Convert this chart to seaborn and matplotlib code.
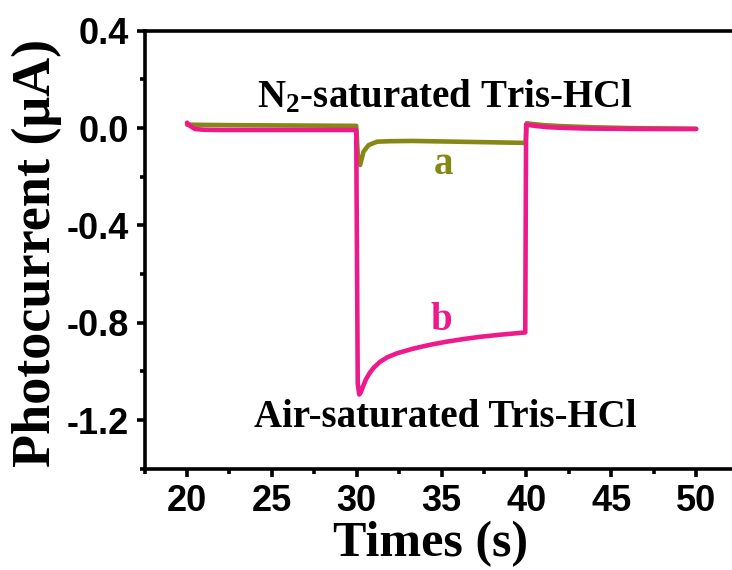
import numpy as np
import pandas as pd
import matplotlib
matplotlib.use("Agg")
import matplotlib.pyplot as plt
import seaborn as sns
from matplotlib.ticker import MultipleLocator, FormatStrFormatter

# ---- data ----
time_a = [20.0, 21.0, 22.5, 25.0, 27.5, 29.97, 30.08, 30.2, 30.4, 30.7, 31.2,
          32.0, 33.3, 35.0, 37.5, 39.95, 40.02, 40.3, 41.0, 42.0, 44.0, 46.0, 50.0]
current_a = [0.014, 0.013, 0.012, 0.011, 0.010, 0.009, -0.13, -0.152, -0.097, -0.070, -0.056,
             -0.054, -0.053, -0.055, -0.058, -0.061, 0.020, 0.017, 0.012, 0.008, 0.003, 0.0, -0.003]

time_b = [20.0, 20.15, 20.47, 21.0, 22.0, 24.0, 26.0, 28.0, 29.97, 30.06, 30.15,
          30.25, 30.38, 30.55, 30.75, 31.0, 31.35, 31.8, 32.4, 33.36, 34.3, 35.3,
          36.3, 37.27, 38.5, 39.93, 39.98, 40.2, 40.6, 41.2, 42.0, 43.5, 45.0, 47.5, 50.0]
current_b = [0.022, 0.010, -0.004, -0.007, -0.008, -0.008, -0.008, -0.008, -0.008, -1.05, -1.095,
             -1.085, -1.06, -1.032, -1.008, -0.985, -0.962, -0.942, -0.925, -0.906, -0.891, -0.878,
             -0.867, -0.858, -0.849, -0.840, 0.014, 0.012, 0.008, 0.004, 0.001, -0.002, -0.003,
             -0.004, -0.004]

series_names = ["a", "b"]
series_colors = ["#878716", "#EE1A8C"]

x_ticks = [20, 25, 30, 35, 40, 45, 50]
y_ticks = [0.4, 0.0, -0.4, -0.8, -1.2]

df = pd.concat([
    pd.DataFrame({"Time": time_a, "Current": current_a, "sample": "a"}),
    pd.DataFrame({"Time": time_b, "Current": current_b, "sample": "b"}),
], ignore_index=True)

sns.set_theme(style="ticks")
plt.rcParams["font.family"] = ["Liberation Sans", "DejaVu Sans"]
plt.rcParams["axes.unicode_minus"] = False
plt.rcParams["text.color"] = "black"
plt.rcParams["axes.labelcolor"] = "black"
plt.rcParams["mathtext.fontset"] = "custom"
plt.rcParams["mathtext.rm"] = "Liberation Serif:bold"
plt.rcParams["mathtext.bf"] = "Liberation Serif:bold"
plt.rcParams["mathtext.it"] = "Liberation Serif:bold"

fig = plt.figure(figsize=(7.32, 5.70), dpi=100)
ax = fig.add_axes([0.1975, 0.1777, 0.8115, 0.7684])

sns.lineplot(data=df, x="Time", y="Current", hue="sample",
             palette=dict(zip(series_names, series_colors)),
             hue_order=series_names, estimator=None, sort=False,
             linewidth=3.3, legend=False, ax=ax)
for ln in ax.get_lines():
    ln.set_solid_joinstyle("round")
    ln.set_solid_capstyle("round")

ax.set_xlim(17.5, 52.5)
ax.set_ylim(-1.4, 0.4)
ax.set_xticks(x_ticks)
ax.set_yticks(y_ticks)
ax.xaxis.set_minor_locator(MultipleLocator(2.5))
ax.yaxis.set_minor_locator(MultipleLocator(0.2))
ax.yaxis.set_major_formatter(FormatStrFormatter("%.1f"))

for s in ax.spines.values():
    s.set_linewidth(2.6)
    s.set_color("black")
ax.tick_params(which="major", direction="out", length=6, width=2.6, color="black",
               labelsize=26, pad=5, labelcolor="black")
ax.tick_params(which="minor", direction="out", length=3.5, width=2.6, color="black")
for lab in ax.get_xticklabels() + ax.get_yticklabels():
    lab.set_fontweight("bold")
    lab.set_fontfamily("Liberation Sans")

serif = ["Liberation Serif", "DejaVu Serif"]
ax.set_xlabel("Times (s)", fontsize=36, fontweight="bold", family=serif, color="black",
              va="baseline", ha="center")
ax.set_ylabel("Photocurrent (μA)", fontsize=39, fontweight="bold", family=serif, color="black",
              va="center", ha="center")
ax.xaxis.set_label_coords(0.482, -0.2)
ax.yaxis.set_label_coords(-0.181, 0.4925)

ax.text(35.2, 0.127, r"N$_\mathregular{2}$-saturated Tris-HCl", fontsize=28,
        fontweight="bold", family=serif, ha="center", va="center", color="black")
ax.text(35.2, -1.188, "Air-saturated Tris-HCl", fontsize=28,
        fontweight="bold", family=serif, ha="center", va="center", color="black")
ax.text(35.1, -0.15, "a", fontsize=28, fontweight="bold", family=serif,
        ha="center", va="center", color=series_colors[0])
ax.text(35.0, -0.79, "b", fontsize=28, fontweight="bold", family=serif,
        ha="center", va="center", color=series_colors[1])

fig.savefig("out.png", dpi=100)
